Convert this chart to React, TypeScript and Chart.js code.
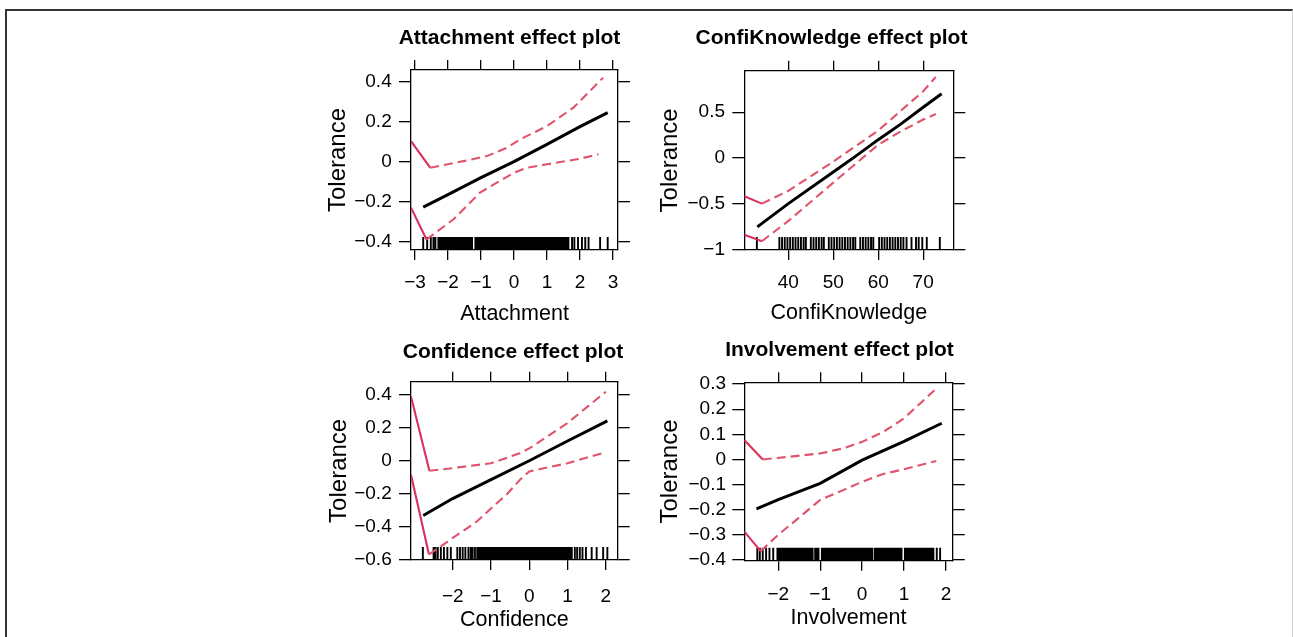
import React, { useEffect, useRef } from "react";
import { Chart, registerables } from "chart.js";

Chart.register(...registerables);

const FONT_FAMILY = "'Liberation Sans', Arial, Helvetica, sans-serif";
const TICK_SIZE = 19;
const TITLE_SIZE = 21;
const XTITLE_SIZE = 21.5;
const YTITLE_SIZE = 24;
const LINE_H = 1.2;
const X_TICK_LEN = 10;
const Y_TICK_LEN = 12;
const RUG_LEN = 13;
const RUG_WIDTH = 1.9;
const RED_SOLID = "#d9305c";
const RED_DASH = "#df536b";
const DASH = [9, 5];

// ---------- Panel 1: Attachment ----------
const attachTitle = "Attachment effect plot";
const attachXLabel = "Attachment";
const attachXTicks = [-3, -2, -1, 0, 1, 2, 3];
const attachYTicks = [-0.4, -0.2, 0, 0.2, 0.4];
const attachXRange = [-3.12, 3.152];
const attachYRange = [-0.4415, 0.4585];
const attachFitX = [-2.75, -2, -1, 0, 1, 2, 2.84];
const attachFitY = [-0.227, -0.165, -0.08, 0.0, 0.087, 0.175, 0.245];
const attachUpperX = [-3.12, -2.54, -1.53, -0.82, -0.21, 0.19, 1, 1.8, 2.7];
const attachUpperY = [0.103, -0.03, 0.003, 0.028, 0.07, 0.112, 0.178, 0.27, 0.42];
const attachLowerX = [-3.12, -2.65, -1.84, -1.03, -0.52, 0, 0.39, 1, 2, 2.56];
const attachLowerY = [-0.23, -0.389, -0.289, -0.155, -0.105, -0.055, -0.03, -0.013, 0.015, 0.037];
const attachRug = [
  -2.75, -2.63, -2.52, -2.44, -2.38, -2.29, -2.25, -2.2, -2.16, -2.12, -2.07, -2.03, -1.98,
  -1.94, -1.89, -1.85, -1.8, -1.76, -1.72, -1.67, -1.63, -1.58, -1.54, -1.49, -1.45, -1.4,
  -1.36, -1.31, -1.27, -1.17, -1.13, -1.08, -1.04, -0.99, -0.95, -0.9, -0.86, -0.82, -0.77,
  -0.73, -0.68, -0.64, -0.59, -0.55, -0.5, -0.46, -0.41, -0.37, -0.32, -0.28, -0.24, -0.19,
  -0.15, -0.1, -0.06, -0.01, 0.03, 0.08, 0.12, 0.16, 0.21, 0.25, 0.3, 0.34, 0.39, 0.43, 0.48,
  0.52, 0.57, 0.61, 0.66, 0.7, 0.74, 0.79, 0.83, 0.88, 0.92, 0.97, 1.01, 1.06, 1.1, 1.15,
  1.19, 1.24, 1.28, 1.33, 1.37, 1.42, 1.46, 1.51, 1.55, 1.6, 1.65, 1.76, 1.83, 1.94, 2.06,
  2.16, 2.26, 2.61, 2.84,
];

// ---------- Panel 2: ConfiKnowledge ----------
const knowTitle = "ConfiKnowledge effect plot";
const knowXLabel = "ConfiKnowledge";
const knowXTicks = [40, 50, 60, 70];
const knowYTicks = [-1, -0.5, 0, 0.5];
const knowXRange = [30.2, 76.7];
const knowYRange = [-1.008, 0.955];
const knowFitX = [33.1, 40, 50, 55, 60, 65, 70, 74.1];
const knowFitY = [-0.755, -0.5, -0.155, 0.02, 0.2, 0.37, 0.555, 0.703];
const knowUpperX = [30.2, 34.1, 40, 50, 60, 70, 72.8];
const knowUpperY = [-0.42, -0.5, -0.36, -0.04, 0.3, 0.73, 0.886];
const knowLowerX = [30.2, 34.1, 40, 50, 60, 65, 70, 72.8];
const knowLowerY = [-0.84, -0.912, -0.69, -0.27, 0.145, 0.29, 0.42, 0.48];
const knowRug = [
  33.0, 38.0, 38.6, 39.2, 39.8, 40.4, 41.0, 41.6, 42.2, 42.8, 43.4, 43.9, 45.0, 45.6, 46.2,
  46.8, 47.4, 47.9, 49.0, 49.6, 50.2, 50.8, 51.4, 52.0, 52.6, 53.2, 53.8, 54.4, 54.9, 56.0,
  56.6, 57.2, 57.8, 58.4, 58.9, 60.2, 60.8, 61.4, 62.0, 62.6, 63.2, 63.8, 64.4, 65.0, 65.6,
  66.3, 67.4, 68.4, 69.0, 69.8, 70.8, 73.7,
];

// ---------- Panel 3: Confidence ----------
const confTitle = "Confidence effect plot";
const confXLabel = "Confidence";
const confXTicks = [-2, -1, 0, 1, 2];
const confYTicks = [-0.6, -0.4, -0.2, 0, 0.2, 0.4];
const confXRange = [-3.09, 2.31];
const confYRange = [-0.604, 0.481];
const confFitX = [-2.77, -2, -1, 0, 1, 2.04];
const confFitY = [-0.333, -0.23, -0.115, 0.0, 0.12, 0.243];
const confUpperX = [-3.09, -2.61, -2, -1, -0.25, 0, 1, 2];
const confUpperY = [0.391, -0.061, -0.045, -0.015, 0.045, 0.075, 0.23, 0.42];
const confLowerX = [-3.09, -2.62, -2.3, -2, -1.37, -1, -0.59, -0.24, 0, 1, 2];
const confLowerY = [-0.085, -0.57, -0.52, -0.47, -0.37, -0.29, -0.205, -0.115, -0.065, -0.015, 0.052];
const confRug = [
  -2.78, -2.5, -2.45, -2.39, -2.31, -2.23, -2.14, -2.05, -1.88, -1.81, -1.74, -1.67, -1.59,
  -1.53, -1.48, -1.42, -1.36, -1.33, -1.29, -1.25, -1.21, -1.17, -1.13, -1.09, -1.05, -1.01,
  -0.97, -0.93, -0.89, -0.85, -0.81, -0.77, -0.73, -0.69, -0.65, -0.61, -0.57, -0.53, -0.49,
  -0.45, -0.41, -0.37, -0.33, -0.29, -0.25, -0.21, -0.17, -0.13, -0.09, -0.05, -0.01, 0.03,
  0.07, 0.11, 0.15, 0.19, 0.23, 0.27, 0.31, 0.35, 0.39, 0.43, 0.47, 0.51, 0.55, 0.59, 0.63,
  0.67, 0.71, 0.75, 0.79, 0.83, 0.87, 0.91, 0.95, 0.99, 1.03, 1.06, 1.11, 1.19, 1.25, 1.32,
  1.39, 1.48, 1.63, 1.76, 1.93, 2.04,
];

// ---------- Panel 4: Involvement ----------
const invTitle = "Involvement effect plot";
const invXLabel = "Involvement";
const invXTicks = [-2, -1, 0, 1, 2];
const invYTicks = [-0.4, -0.3, -0.2, -0.1, 0, 0.1, 0.2, 0.3];
const invXRange = [-2.81, 2.16];
const invYRange = [-0.403, 0.307];
const invFitX = [-2.52, -2, -1, 0, 1, 1.9];
const invFitY = [-0.197, -0.16, -0.095, -0.003, 0.072, 0.144];
const invUpperX = [-2.81, -2.37, -1.72, -1, -0.45, 0, 0.51, 1, 1.8];
const invUpperY = [0.077, 0.0, 0.011, 0.024, 0.044, 0.07, 0.11, 0.164, 0.287];
const invLowerX = [-2.81, -2.42, -2, -1.48, -1, -0.45, 0, 0.5, 1, 1.77];
const invLowerY = [-0.287, -0.365, -0.3, -0.228, -0.161, -0.122, -0.089, -0.058, -0.039, -0.006];
const invRug = [
  -2.5, -2.44, -2.37, -2.29, -2.21, -2.12, -2.02, -1.98, -1.94, -1.9, -1.86, -1.82, -1.78,
  -1.74, -1.7, -1.66, -1.62, -1.58, -1.54, -1.5, -1.46, -1.42, -1.38, -1.34, -1.3, -1.26,
  -1.22, -1.18, -1.12, -1.08, -1.04, -0.96, -0.92, -0.88, -0.84, -0.8, -0.76, -0.72, -0.68,
  -0.64, -0.6, -0.56, -0.52, -0.48, -0.44, -0.4, -0.36, -0.32, -0.28, -0.24, -0.2, -0.16,
  -0.12, -0.08, -0.04, 0, 0.04, 0.08, 0.12, 0.16, 0.2, 0.24, 0.3, 0.34, 0.38, 0.42, 0.46,
  0.5, 0.54, 0.58, 0.62, 0.66, 0.7, 0.74, 0.78, 0.82, 0.86, 0.9, 0.94, 1.02, 1.06, 1.1, 1.14,
  1.18, 1.22, 1.26, 1.3, 1.34, 1.38, 1.42, 1.46, 1.5, 1.54, 1.58, 1.62, 1.66, 1.7, 1.78, 1.86,
];

const Y_LABEL = "Tolerance";

type Layout = {
  left: number;
  top: number;
  height: number;
  titleCX: number;
  titleY: number;
  box: { l: number; r: number; t: number; b: number };
  xLabelY: number;
  xTitleY: number;
  yTitleX: number;
  yLabelRight: number;
};

type PanelCfg = {
  title: string;
  xLabel: string;
  xTicks: number[];
  yTicks: number[];
  xRange: number[];
  yRange: number[];
  fitX: number[];
  fitY: number[];
  upperX: number[];
  upperY: number[];
  lowerX: number[];
  lowerY: number[];
  rug: number[];
  layout: Layout;
};

const panels: PanelCfg[] = [
  {
    title: attachTitle, xLabel: attachXLabel, xTicks: attachXTicks, yTicks: attachYTicks,
    xRange: attachXRange, yRange: attachYRange, fitX: attachFitX, fitY: attachFitY,
    upperX: attachUpperX, upperY: attachUpperY, lowerX: attachLowerX, lowerY: attachLowerY,
    rug: attachRug,
    layout: {
      left: 320, top: 10, height: 320, titleCX: 509.5, titleY: 37.8,
      box: { l: 411, r: 618, t: 70, b: 250 },
      xLabelY: 282.5, xTitleY: 313.8, yTitleX: 338.7, yLabelRight: 391.7,
    },
  },
  {
    title: knowTitle, xLabel: knowXLabel, xTicks: knowXTicks, yTicks: knowYTicks,
    xRange: knowXRange, yRange: knowYRange, fitX: knowFitX, fitY: knowFitY,
    upperX: knowUpperX, upperY: knowUpperY, lowerX: knowLowerX, lowerY: knowLowerY,
    rug: knowRug,
    layout: {
      left: 650, top: 10, height: 320, titleCX: 831.7, titleY: 38.5,
      box: { l: 744.3, r: 953.3, t: 70.7, b: 250 },
      xLabelY: 283, xTitleY: 313.5, yTitleX: 670.8, yLabelRight: 725,
    },
  },
  {
    title: confTitle, xLabel: confXLabel, xTicks: confXTicks, yTicks: confYTicks,
    xRange: confXRange, yRange: confYRange, fitX: confFitX, fitY: confFitY,
    upperX: confUpperX, upperY: confUpperY, lowerX: confLowerX, lowerY: confLowerY,
    rug: confRug,
    layout: {
      left: 320, top: 320, height: 317, titleCX: 513, titleY: 352.5,
      box: { l: 411, r: 617.7, t: 381.7, b: 560 },
      xLabelY: 596.3, xTitleY: 620.5, yTitleX: 339.2, yLabelRight: 391.7,
    },
  },
  {
    title: invTitle, xLabel: invXLabel, xTicks: invXTicks, yTicks: invYTicks,
    xRange: invXRange, yRange: invYRange, fitX: invFitX, fitY: invFitY,
    upperX: invUpperX, upperY: invUpperY, lowerX: invLowerX, lowerY: invLowerY,
    rug: invRug,
    layout: {
      left: 650, top: 320, height: 317, titleCX: 839.7, titleY: 350.5,
      box: { l: 744.3, r: 952.7, t: 382.3, b: 560.7 },
      xLabelY: 595, xTitleY: 618, yTitleX: 670.8, yLabelRight: 726,
    },
  },
];

const toPts = (xs: number[], ys: number[]) => xs.map((x, i) => ({ x, y: ys[i] }));
const fmt = (v: number) => (v < 0 ? "\u2212" : "") + String(Math.abs(v));

const rugPlugin = {
  id: "rug",
  beforeDatasetsDraw(chart: any, _args: any, opts: any) {
    const { ctx, chartArea, scales } = chart;
    const xs = scales.x;
    ctx.save();
    ctx.strokeStyle = "#000";
    ctx.lineWidth = opts.width;
    ctx.beginPath();
    for (const v of opts.values as number[]) {
      const px = xs.getPixelForValue(v);
      ctx.moveTo(px, chartArea.bottom);
      ctx.lineTo(px, chartArea.bottom - opts.length);
    }
    ctx.stroke();
    ctx.restore();
  },
};

function bandDataset(xs: number[], ys: number[]) {
  return {
    data: toPts(xs, ys),
    showLine: true,
    pointRadius: 0,
    pointHoverRadius: 0,
    borderWidth: 2.1,
    borderColor: RED_DASH,
    borderDash: DASH,
    tension: 0,
    segment: {
      borderDash: (c: any) => (c.p0DataIndex === 0 ? [] : DASH),
      borderColor: (c: any) => (c.p0DataIndex === 0 ? RED_SOLID : RED_DASH),
    },
  };
}

function Panel({ cfg }: { cfg: PanelCfg }) {
  const ref = useRef<HTMLCanvasElement | null>(null);
  const L = cfg.layout;
  const width = Math.round(2 * (L.titleCX - L.left));

  useEffect(() => {
    if (!ref.current) return;
    const titleLH = TITLE_SIZE * LINE_H;
    const tickLH = TICK_SIZE * LINE_H;
    const xTitleLH = XTITLE_SIZE * LINE_H;
    const yTitleLH = YTITLE_SIZE * LINE_H;
    const pt = L.titleY - L.top - titleLH / 2;
    const topAxisH = L.box.t - L.top - (pt + titleLH);
    const yAxisW = L.box.l - L.left;
    const rightW = L.left + width - L.box.r;
    const bottomH = L.top + L.height - L.box.b;
    const xTickPad = L.xLabelY - L.box.b - X_TICK_LEN - tickLH / 2;
    const xTitlePadB = L.top + L.height - L.xTitleY - xTitleLH / 2;
    const yTickPad = L.box.l - L.yLabelRight - Y_TICK_LEN;
    const yTitlePadT = L.yTitleX - L.left - yTitleLH / 2;

    const tickFont = { family: FONT_FAMILY, size: TICK_SIZE, lineHeight: LINE_H };
    const grid = (len: number) => ({
      display: true,
      drawOnChartArea: false,
      drawTicks: true,
      tickLength: len,
      color: "#000",
      lineWidth: 1.3,
    });
    const border = { display: true, color: "#000", width: 1.3 };
    const setX = (s: any) => {
      s.ticks = cfg.xTicks.map((v) => ({ value: v }));
    };
    const setY = (s: any) => {
      s.ticks = cfg.yTicks.map((v) => ({ value: v }));
    };

    const chart = new Chart(ref.current, {
      type: "scatter",
      data: {
        datasets: [
          bandDataset(cfg.upperX, cfg.upperY),
          bandDataset(cfg.lowerX, cfg.lowerY),
          {
            data: toPts(cfg.fitX, cfg.fitY),
            showLine: true,
            pointRadius: 0,
            pointHoverRadius: 0,
            borderWidth: 3,
            borderColor: "#000",
            tension: 0,
          },
        ],
      } as any,
      options: {
        responsive: false,
        animation: false,
        events: [],
        layout: { padding: 0 },
        plugins: {
          legend: { display: false },
          tooltip: { enabled: false },
          title: {
            display: true,
            text: cfg.title,
            color: "#000",
            font: { family: FONT_FAMILY, size: TITLE_SIZE, weight: "bold", lineHeight: LINE_H },
            padding: { top: pt, bottom: 0 },
          },
          rug: { values: cfg.rug, length: RUG_LEN, width: RUG_WIDTH },
        } as any,
        scales: {
          x: {
            type: "linear",
            position: "bottom",
            min: cfg.xRange[0],
            max: cfg.xRange[1],
            afterBuildTicks: setX,
            afterFit: (s: any) => {
              s.height = bottomH;
            },
            grid: grid(X_TICK_LEN),
            border,
            ticks: {
              display: true,
              autoSkip: false,
              maxRotation: 0,
              minRotation: 0,
              padding: xTickPad,
              color: "#000",
              font: tickFont,
              callback: (v: any) => fmt(Number(v)),
            },
            title: {
              display: true,
              text: cfg.xLabel,
              color: "#000",
              font: { family: FONT_FAMILY, size: XTITLE_SIZE, lineHeight: LINE_H },
              padding: { top: 0, bottom: xTitlePadB },
            },
          },
          x2: {
            type: "linear",
            axis: "x",
            position: "top",
            min: cfg.xRange[0],
            max: cfg.xRange[1],
            afterBuildTicks: setX,
            afterFit: (s: any) => {
              s.height = topAxisH;
            },
            grid: grid(X_TICK_LEN),
            border,
            ticks: { display: false },
          },
          y: {
            type: "linear",
            position: "left",
            min: cfg.yRange[0],
            max: cfg.yRange[1],
            afterBuildTicks: setY,
            afterFit: (s: any) => {
              s.width = yAxisW;
            },
            grid: grid(Y_TICK_LEN),
            border,
            ticks: {
              display: true,
              autoSkip: false,
              padding: yTickPad,
              color: "#000",
              font: tickFont,
              callback: (v: any) => fmt(Number(v)),
            },
            title: {
              display: true,
              text: Y_LABEL,
              color: "#000",
              font: { family: FONT_FAMILY, size: YTITLE_SIZE, lineHeight: LINE_H },
              padding: { top: yTitlePadT, bottom: 0 },
            },
          },
          y2: {
            type: "linear",
            axis: "y",
            position: "right",
            min: cfg.yRange[0],
            max: cfg.yRange[1],
            afterBuildTicks: setY,
            afterFit: (s: any) => {
              s.width = rightW;
            },
            grid: grid(Y_TICK_LEN),
            border,
            ticks: { display: false },
          },
        } as any,
      },
      plugins: [rugPlugin as any],
    });
    return () => chart.destroy();
  }, [cfg]);

  return (
    <canvas
      ref={ref}
      width={width}
      height={L.height}
      style={{ position: "absolute", left: L.left, top: L.top, width, height: L.height }}
    />
  );
}

export default function App() {
  return (
    <div
      style={{
        position: "absolute",
        left: 0,
        top: 0,
        width: 1293,
        height: 637,
        overflow: "hidden",
        background: "#fff",
      }}
    >
      <div
        style={{
          position: "absolute",
          left: 5,
          top: 9,
          width: 1288,
          height: 700,
          boxSizing: "border-box",
          borderTop: "2px solid #333",
          borderLeft: "2px solid #333",
          borderRight: "1px solid #d4d4d4",
        }}
      />
      {panels.map((p) => (
        <Panel key={p.title} cfg={p} />
      ))}
    </div>
  );
}
